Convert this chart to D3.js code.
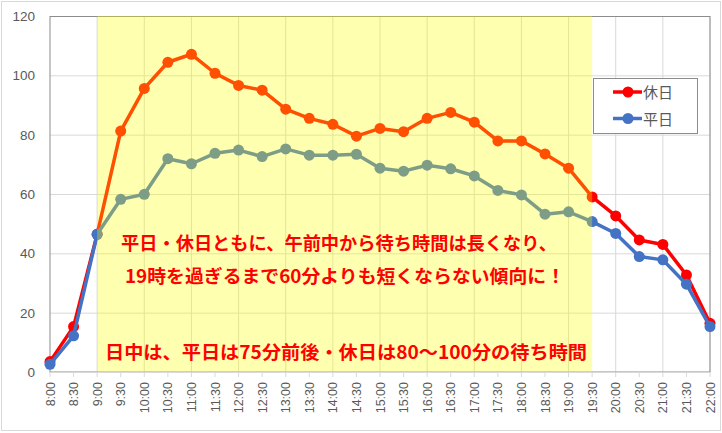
<!DOCTYPE html>
<html><head><meta charset="utf-8">
<script src="https://cdn.jsdelivr.net/npm/d3@7"></script>
<style>body{margin:0;background:#fff}svg{display:block}</style>
</head><body>
<svg id="c" width="722" height="433"></svg>
<script>
const times = ["8:00","8:30","9:00","9:30","10:00","10:30","11:00","11:30","12:00","12:30","13:00","13:30","14:00","14:30","15:00","15:30","16:00","16:30","17:00","17:30","18:00","18:30","19:00","19:30","20:00","20:30","21:00","21:30","22:00"];
const holiday = [3.5,15.3,46.4,81.2,95.6,104.4,107.1,100.7,96.6,95.0,88.6,85.5,83.5,79.5,82.1,81.0,85.5,87.5,84.2,77.9,77.9,73.5,68.7,59.0,52.6,44.5,43.0,32.7,16.4];
const weekday = [2.6,12.2,46.4,58.2,59.9,71.9,70.2,73.7,74.8,72.6,75.2,73.1,73.1,73.4,68.7,67.7,69.7,68.5,66.1,61.2,59.7,53.2,54.0,50.7,46.7,38.9,37.8,29.6,15.3];
const yTicks = [0,20,40,60,80,100,120];
const seriesNames = ["休日","平日"];
const seriesColors = ["#FF0000","#4472C4"];
const bandStart = "9:00", bandEnd = "19:30";
const notes = ["平日・休日ともに、午前中から待ち時間は長くなり、","19時を過ぎるまで60分よりも短くならない傾向に！","日中は、平日は75分前後・休日は80～100分の待ち時間"];

const svg = d3.select("#c");
const L=50,R=710,T=16,B=372;
const x = d3.scalePoint().domain(times).range([L,R]);
const y = d3.scaleLinear().domain([0,120]).range([B,T]);

svg.append("rect").attr("x",1.5).attr("y",1.5).attr("width",719).attr("height",429).attr("fill","#fff").attr("stroke","#D9D9D9").attr("stroke-width",1);

// horizontal grid
svg.append("g").selectAll("line").data(yTicks.filter(d=>d>0)).join("line")
  .attr("x1",L).attr("x2",R).attr("y1",d=>y(d)+0.5).attr("y2",d=>y(d)+0.5)
  .attr("stroke","#D9D9D9").attr("stroke-width",1);
// vertical grid each hour
svg.append("g").selectAll("line").data(times.filter((t,i)=>i%2===0 && i>0)).join("line")
  .attr("x1",d=>x(d)).attr("x2",d=>x(d)).attr("y1",T).attr("y2",B)
  .attr("stroke","#D9D9D9").attr("stroke-width",1);
// plot border
svg.append("rect").attr("x",L).attr("y",T+0.5).attr("width",R-L).attr("height",B-T-0.5)
  .attr("fill","none").attr("stroke","#8C8C8C").attr("stroke-width",1);
// x axis line and ticks
svg.append("line").attr("x1",L).attr("x2",R).attr("y1",B+0.5).attr("y2",B+0.5).attr("stroke","#D9D9D9");
svg.append("g").selectAll("line").data(times).join("line")
  .attr("x1",d=>x(d)).attr("x2",d=>x(d)).attr("y1",B).attr("y2",B+5).attr("stroke","#D9D9D9");

// y labels
svg.append("g").selectAll("text").data(yTicks).join("text")
  .attr("x",35).attr("y",d=>y(d)+5).attr("text-anchor","end")
  .attr("font-family","Liberation Sans, Arial, sans-serif").attr("font-size",13.5).attr("fill","#595959")
  .text(d=>d);
// x labels
svg.append("g").selectAll("text").data(times).join("text")
  .attr("transform",d=>`translate(${x(d)+4.5},382) rotate(-90)`).attr("text-anchor","end")
  .attr("font-family","Liberation Sans, Arial, sans-serif").attr("font-size",12.5).attr("fill","#595959")
  .text(d=>d);

// series
const data = [holiday, weekday];
const line = d3.line().x((d,i)=>x(times[i])).y(d=>y(d));
[0,1].forEach(k=>{
  svg.append("path").attr("d",line(data[k])).attr("fill","none").attr("stroke",seriesColors[k]).attr("stroke-width",3.5).attr("stroke-linejoin","round");
  svg.append("g").selectAll("circle").data(data[k]).join("circle")
    .attr("cx",(d,i)=>x(times[i])).attr("cy",d=>y(d)).attr("r",5.5).attr("fill",seriesColors[k]);
});

// yellow band overlay
svg.append("rect").attr("x",x(bandStart)).attr("y",T).attr("width",x(bandEnd)-x(bandStart)).attr("height",B-T)
  .attr("fill","#FFFF00").attr("opacity",0.31);

// notes
const noteY=[250,283,359], noteX=[339,345,346], noteW=[436,440,482];
svg.append("g").selectAll("text").data(notes).join("text")
  .attr("x",(d,i)=>noteX[i]).attr("y",(d,i)=>noteY[i]).attr("text-anchor","middle")
  .attr("textLength",(d,i)=>noteW[i]).attr("lengthAdjust","spacingAndGlyphs")
  .attr("font-family","Noto Sans CJK JP, sans-serif").attr("font-weight","bold").attr("font-size",18).attr("fill","#FF0000")
  .text(d=>d);

// legend
const lg = svg.append("g");
lg.append("rect").attr("x",593.5).attr("y",78.5).attr("width",104).attr("height",55).attr("fill","#fff").attr("stroke","#8C8C8C");
seriesNames.forEach((n,i)=>{
  const ly = 92+i*26.5;
  lg.append("line").attr("x1",613).attr("x2",642).attr("y1",ly).attr("y2",ly).attr("stroke",seriesColors[i]).attr("stroke-width",3.5);
  lg.append("circle").attr("cx",628).attr("cy",ly).attr("r",5.5).attr("fill",seriesColors[i]);
  lg.append("text").attr("x",643).attr("y",ly+6).attr("font-family","Noto Sans CJK JP, sans-serif").attr("font-size",15).attr("fill","#595959").text(n);
});
</script>
</body></html>
